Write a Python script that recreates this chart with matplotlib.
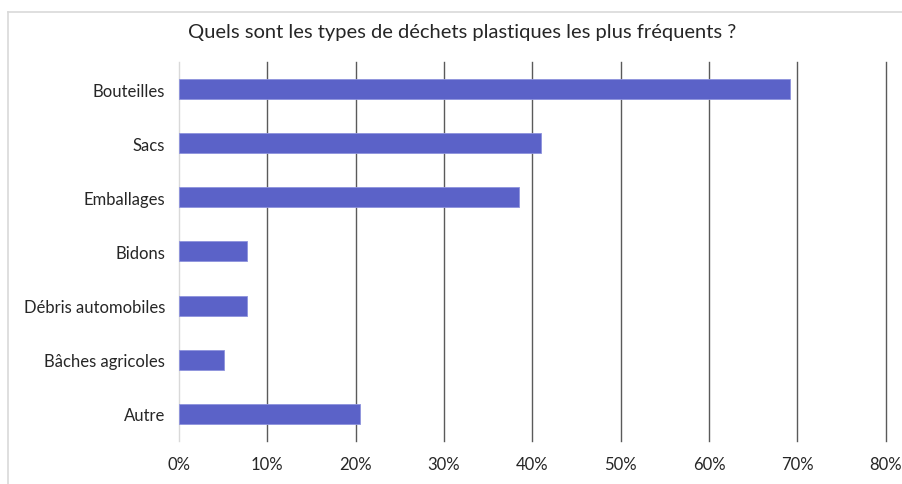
import matplotlib
matplotlib.use("Agg")
import matplotlib.pyplot as plt
from matplotlib.lines import Line2D
from matplotlib.ticker import PercentFormatter

# share of respondents citing each kind of plastic waste (%)
categories = ["Bouteilles", "Sacs", "Emballages", "Bidons",
              "Débris automobiles", "Bâches agricoles", "Autre"]
values = [69.2, 41.0, 38.5, 7.7, 7.7, 5.1, 20.5]
xticks = [0, 10, 20, 30, 40, 50, 60, 70, 80]

plt.rcParams['font.family'] = ['Lato', 'DejaVu Sans']

fig = plt.figure(figsize=(9.03, 4.85), dpi=100)
ax = fig.add_axes([0.198, 0.089, 0.783, 0.781])

y = list(range(len(categories)))
ax.barh(y, values, height=0.37, color="#5B62C8", edgecolor="#8E93DD",
        linewidth=0.6, zorder=3)
ax.set_ylim(len(categories) - 0.5, -0.5)
ax.set_yticks(y)
ax.set_yticklabels(categories, fontsize=12, color="#262626")

ax.set_xlim(0, 80)
ax.set_xticks(xticks)
ax.xaxis.set_major_formatter(PercentFormatter(decimals=0))
ax.tick_params(axis="x", labelsize=12, colors="#262626", pad=11, length=0)
ax.tick_params(axis="y", length=0, pad=10)
ax.grid(axis="x", color="#5a5a5a", linewidth=1.0, zorder=0)
grid = ax.get_xgridlines()
for g in grid:
    g.set_clip_on(False)
# the zero line is the category axis, kept light
grid[0].set_color("#d9d9d9")
for s in ["top", "right", "bottom", "left"]:
    ax.spines[s].set_visible(False)

fig.text(0.512, 0.932, "Quels sont les types de déchets plastiques les plus fréquents ?",
         ha="center", va="center", fontsize=14.5, color="#262626")

# light frame around the chart area
fig.add_artist(Line2D([8 / 903, 1], [1 - 13 / 485, 1 - 13 / 485],
                      transform=fig.transFigure, color="#d9d9d9", lw=1.2))
fig.add_artist(Line2D([8 / 903, 8 / 903], [0, 1 - 13 / 485],
                      transform=fig.transFigure, color="#d9d9d9", lw=1.2))

fig.savefig("out.png", dpi=100)
